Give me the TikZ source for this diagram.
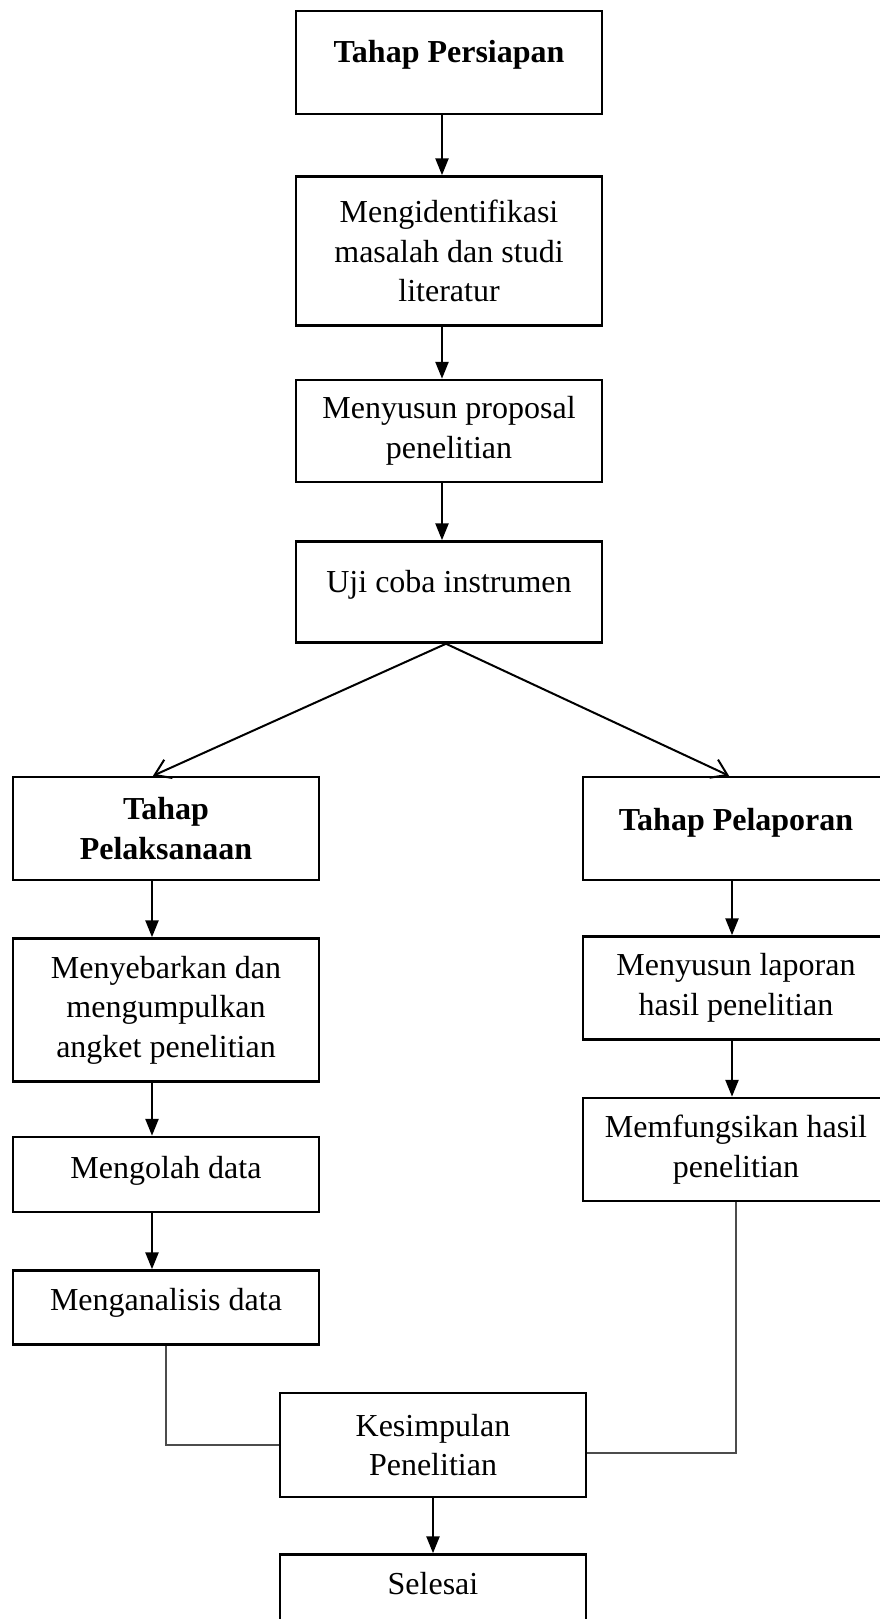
\documentclass[tikz,border=0pt]{standalone}
\usepackage{fontspec}
\setmainfont{Liberation Serif}
\usetikzlibrary{arrows.meta,positioning}

\begin{document}
\begin{tikzpicture}[
    x=1pt, y=1pt,
    node distance=55pt,
    box/.style={draw, line width=2.5pt, minimum width=306pt, inner sep=0pt,
                align=center, font=\fontsize{32}{39.5}\selectfont},
    title/.style={box, font=\fontsize{32}{39.5}\selectfont\bfseries},
    arr/.style={-{Triangle[length=17pt,width=13pt]}, line width=2.5pt},
    split/.style={-{Straight Barb[length=15pt,width=20pt]}, line width=2pt},
    link/.style={line width=1.2pt, black!70}
]
    \clip (0,0) rectangle (880,-1619);

    \node[title, text height=52pt, text depth=51pt] (persiapan) at (449,-62.5) {Tahap Persiapan};
    \node[box, minimum height=149pt, below=60pt of persiapan] (identifikasi) {Mengidentifikasi\\masalah dan studi\\literatur};
    \node[box, minimum height=102pt, below=52pt of identifikasi] (proposal) {Menyusun proposal\\penelitian};
    \node[box, text height=51pt, text depth=50pt, below=57pt of proposal] (ujicoba) {Uji coba instrumen};

    % cabang kiri
    \node[title, minimum height=103pt] (pelaksanaan) at (166,-828.5) {Tahap\\Pelaksanaan};
    \node[box, minimum height=143pt, below=56pt of pelaksanaan] (angket) {Menyebarkan dan\\mengumpulkan\\angket penelitian};
    \node[box, text height=41pt, text depth=34pt, below=53pt of angket] (olah) {Mengolah data};
    \node[box, text height=40pt, text depth=34pt, below=56pt of olah] (analisis) {Menganalisis data};

    % cabang kanan
    \node[title, text height=53pt, text depth=50pt] (pelaporan) at (736,-828.5) {Tahap Pelaporan};
    \node[box, minimum height=103pt, below=54pt of pelaporan] (laporan) {Menyusun laporan\\hasil penelitian};
    \node[box, minimum height=103pt, below=56pt of laporan] (fungsi) {Memfungsikan hasil\\penelitian};

    \node[box, minimum height=104pt] (kesimpulan) at (433,-1445) {Kesimpulan\\Penelitian};
    \node[box, text height=40pt, text depth=63pt, below=55pt of kesimpulan] (selesai) {Selesai};

    \draw[arr] ([xshift=-7pt]persiapan.south) -- ([xshift=-7pt]identifikasi.north);
    \draw[arr] ([xshift=-7pt]identifikasi.south) -- ([xshift=-7pt]proposal.north);
    \draw[arr] ([xshift=-7pt]proposal.south) -- ([xshift=-7pt]ujicoba.north);

    \draw[split] ([xshift=-3pt]ujicoba.south) -- ([xshift=-13pt]pelaksanaan.north);
    \draw[split] ([xshift=-3pt]ujicoba.south) -- ([xshift=-7pt]pelaporan.north);

    \draw[arr] ([xshift=-14pt]pelaksanaan.south) -- ([xshift=-14pt]angket.north);
    \draw[arr] ([xshift=-14pt]angket.south) -- ([xshift=-14pt]olah.north);
    \draw[arr] ([xshift=-14pt]olah.south) -- ([xshift=-14pt]analisis.north);

    \draw[arr] ([xshift=-4pt]pelaporan.south) -- ([xshift=-4pt]laporan.north);
    \draw[arr] ([xshift=-4pt]laporan.south) -- ([xshift=-4pt]fungsi.north);

    \draw[link] (analisis.south) |- (kesimpulan.west);
    \draw[link] (fungsi.south) |- ([yshift=-8pt]kesimpulan.east);
    \draw[arr] (kesimpulan) -- (selesai);
\end{tikzpicture}
\end{document}
